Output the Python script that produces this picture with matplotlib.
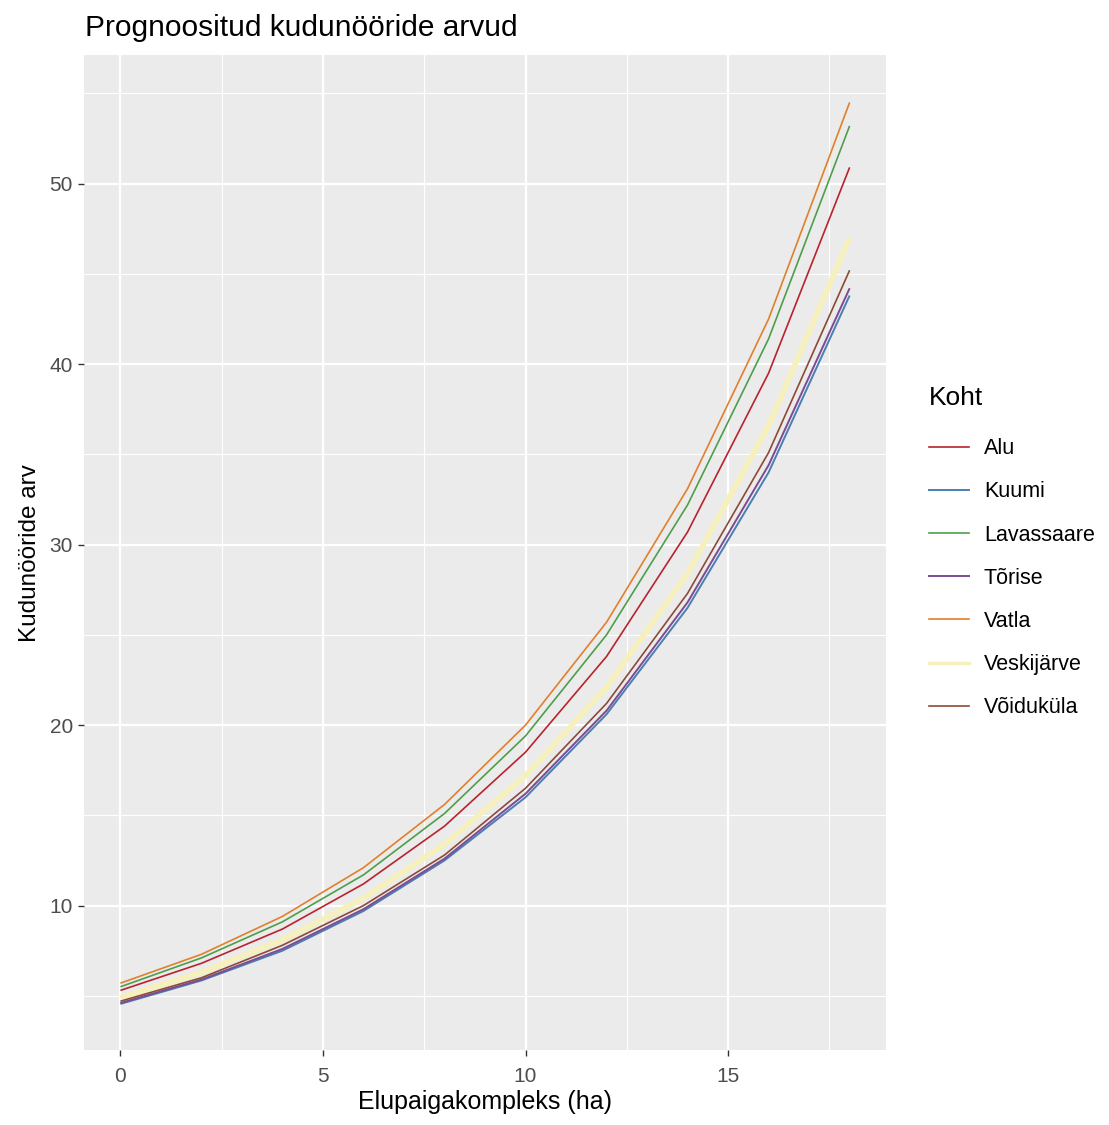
import matplotlib.pyplot as plt
from matplotlib.lines import Line2D
from matplotlib.ticker import MultipleLocator

plt.rcParams['font.family'] = ['Liberation Sans', 'DejaVu Sans']

# predicted counts, evaluated every 2 ha
habitat = [0, 2, 4, 6, 8, 10, 12, 14, 16, 18]
sites = ['Alu', 'Kuumi', 'Lavassaare', 'Tõrise', 'Vatla', 'Veskijärve', 'Võiduküla']
alu = [5.3, 6.8, 8.7, 11.2, 14.4, 18.5, 23.8, 30.7, 39.5, 50.9]
kuumi = [4.55, 5.85, 7.5, 9.7, 12.5, 16.0, 20.6, 26.5, 34.0, 43.8]
lavassaare = [5.5, 7.1, 9.1, 11.7, 15.1, 19.4, 25.0, 32.2, 41.4, 53.2]
torise = [4.6, 5.9, 7.6, 9.8, 12.6, 16.2, 20.8, 26.8, 34.4, 44.2]
vatla = [5.7, 7.3, 9.4, 12.1, 15.6, 20.0, 25.7, 33.1, 42.5, 54.5]
veskijarve = [4.9, 6.3, 8.1, 10.4, 13.4, 17.2, 22.1, 28.4, 36.6, 47.0]
voidukula = [4.7, 6.0, 7.8, 10.0, 12.8, 16.5, 21.2, 27.3, 35.1, 45.2]
series = [alu, kuumi, lavassaare, torise, vatla, veskijarve, voidukula]

colors = ['#B8232E', '#4A7FB5', '#4E9E4A', '#7B4C93', '#E0802C', '#F6F0BC', '#8C4A36']
widths = [1.2, 1.4, 1.2, 1.4, 1.2, 4.0, 1.2]

fig = plt.figure(figsize=(11.09, 11.25), dpi=100)
ax = fig.add_axes([0.0757, 0.0667, 0.7233, 0.884])
ax.set_facecolor('#EBEBEB')

for name, vals, c, w in zip(sites, series, colors, widths):
    ax.plot(habitat, vals, color=c, lw=w, label=name, solid_capstyle='butt')

ax.set_xlim(-0.9, 18.9)
ax.set_ylim(2.0, 57.1)
ax.xaxis.set_major_locator(MultipleLocator(5))
ax.xaxis.set_minor_locator(MultipleLocator(2.5))
ax.yaxis.set_major_locator(MultipleLocator(10))
ax.yaxis.set_minor_locator(MultipleLocator(5))
ax.grid(which='major', color='white', lw=1.6)
ax.grid(which='minor', color='white', lw=0.8)
ax.set_axisbelow(True)
for s in ax.spines.values():
    s.set_visible(False)
ax.tick_params(which='major', length=4, width=1, color='#333333',
               labelsize=15, labelcolor='#4D4D4D', pad=4)
ax.tick_params(axis='x', which='major', pad=8)
ax.tick_params(which='minor', length=0)

ax.set_xlabel('Elupaigakompleks (ha)', fontsize=18, color='black', labelpad=3)
ax.set_ylabel('Kudunööride arv', fontsize=17.5, color='black', labelpad=6)
fig.text(0.0766, 0.975, 'Prognoositud kudunööride arvud', fontsize=21.5,
         ha='left', va='center')

handles = [Line2D([], [], color=c, lw=min(w, 2.5)) for c, w in zip(colors, widths)]
leg = fig.legend(handles, sites, title='Koht', loc='center left',
                 bbox_to_anchor=(0.82, 0.509), frameon=False,
                 fontsize=15.5, title_fontsize=19, labelspacing=1.03,
                 handlelength=1.86, handletextpad=0.7)
leg._legend_box.align = 'left'
leg._legend_box.sep = 20

fig.savefig('out.png', dpi=100)
